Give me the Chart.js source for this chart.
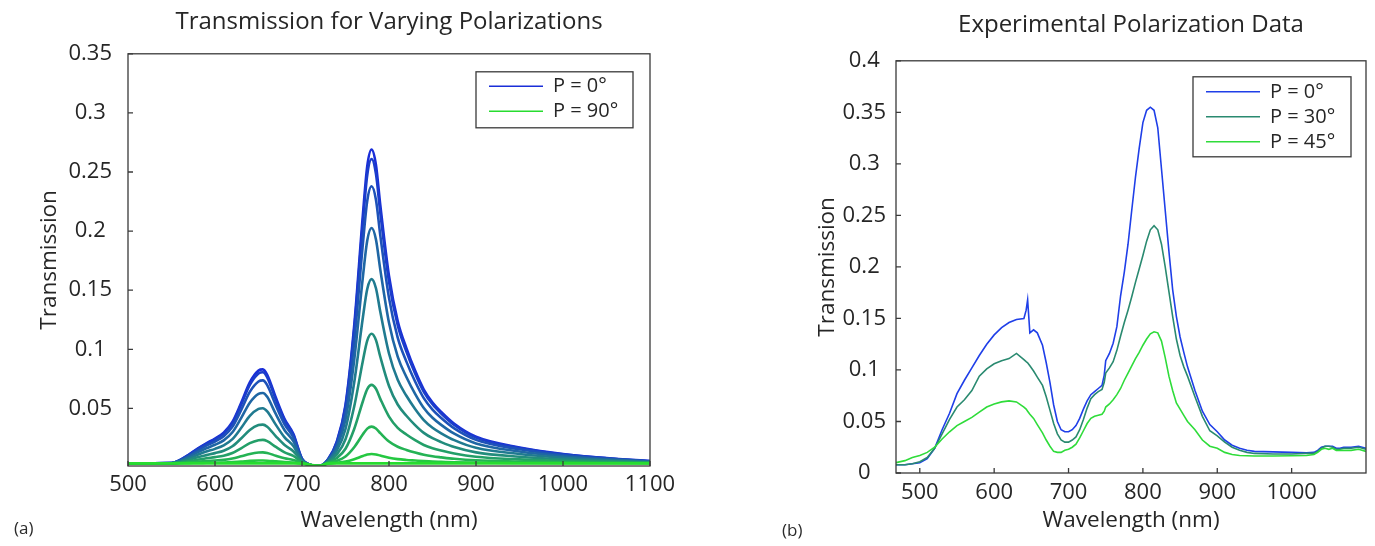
<!DOCTYPE html>
<html>
<head>
<meta charset="utf-8">
<script src="https://cdn.jsdelivr.net/npm/chart.js@4.4.1/dist/chart.umd.min.js"></script>
<style>
  html, body { margin: 0; padding: 0; background: #fff; }
  body { width: 1375px; height: 546px; position: relative; overflow: hidden; font-family: "Open Sans", sans-serif; }
  .panel { position: absolute; top: 0; height: 546px; }
  #panelA { left: 0; width: 690px; }
  #panelB { left: 780px; width: 595px; }
  .tag { position: absolute; font-size: 17px; color: #2b2b2b; line-height: 1; }
</style>
</head>
<body>
<div class="panel" id="panelA"><canvas id="chartA"></canvas></div>
<div class="panel" id="panelB"><canvas id="chartB"></canvas></div>
<div class="tag" style="left:14px; top:519px;">(a)</div>
<div class="tag" style="left:782px; top:521px;">(b)</div>
<script>
// ---- (a) simulated transmission, one curve per polarization angle ----
const wlA = [500, 550, 560, 570, 580, 590, 600, 610, 620, 630, 640, 650, 655, 660, 670, 680, 690, 700, 710, 720,
             730, 740, 750, 760, 770, 775, 780, 785, 790, 800, 810, 820, 830, 840, 850, 860, 875, 900, 950, 1000, 1050, 1100];

const tA00 = [.0035, .0037, .0065, .0110, .0160, .0205, .0245, .0295, .0385, .0545, .0720, .0820, .0830, .0785, .0590, .0410, .0285, .0075, .0020, .0013,
              .0070, .0220, .0530, .1200, .2140, .2550, .2690, .2560, .2220, .1620, .1240, .1010, .0820, .0660, .0550, .0470, .0370, .0260, .0170, .0115, .0080, .0055];
const tA10 = [.0035, .0037, .0064, .0108, .0156, .0200, .0239, .0287, .0375, .0530, .0699, .0796, .0806, .0763, .0573, .0399, .0278, .0074, .0022, .0014,
              .0069, .0214, .0515, .1165, .2077, .2475, .2610, .2484, .2154, .1572, .1204, .0981, .0796, .0641, .0535, .0457, .0360, .0253, .0166, .0113, .0079, .0054];
const tA20 = [.0035, .0037, .0061, .0101, .0145, .0185, .0220, .0265, .0344, .0485, .0640, .0728, .0737, .0697, .0525, .0366, .0256, .0070, .0022, .0014,
              .0066, .0198, .0472, .1064, .1894, .2256, .2379, .2265, .1964, .1435, .1099, .0896, .0728, .0587, .0490, .0419, .0331, .0234, .0154, .0106, .0075, .0053];
const tA30 = [.0035, .0037, .0058, .0091, .0129, .0163, .0193, .0230, .0298, .0418, .0549, .0624, .0631, .0598, .0451, .0316, .0223, .0065, .0022, .0014,
              .0061, .0174, .0406, .0909, .1614, .1921, .2026, .1929, .1674, .1224, .0939, .0766, .0624, .0504, .0421, .0361, .0286, .0204, .0136, .0095, .0069, .0050];
const tA40 = [.0035, .0036, .0053, .0079, .0108, .0135, .0158, .0188, .0240, .0334, .0437, .0496, .0502, .0475, .0361, .0255, .0182, .0058, .0022, .0014,
              .0056, .0144, .0326, .0719, .1271, .1511, .1594, .1517, .1318, .0965, .0742, .0607, .0496, .0402, .0337, .0290, .0232, .0167, .0114, .0082, .0061, .0047];
const tA50 = [.0035, .0036, .0047, .0066, .0087, .0105, .0122, .0142, .0180, .0246, .0318, .0359, .0363, .0345, .0264, .0190, .0138, .0052, .0022, .0014,
              .0049, .0111, .0239, .0516, .0904, .1074, .1132, .1078, .0937, .0690, .0533, .0438, .0359, .0293, .0248, .0215, .0173, .0128, .0091, .0068, .0054, .0043];
const tA60 = [.0035, .0036, .0043, .0054, .0066, .0078, .0088, .0100, .0123, .0163, .0206, .0231, .0234, .0223, .0174, .0129, .0098, .0045, .0022, .0014,
              .0044, .0081, .0159, .0326, .0561, .0664, .0699, .0666, .0581, .0431, .0336, .0279, .0231, .0191, .0164, .0144, .0119, .0091, .0069, .0055, .0046, .0040];
const tA70 = [.0035, .0035, .0039, .0044, .0050, .0055, .0060, .0065, .0076, .0095, .0115, .0127, .0128, .0123, .0100, .0079, .0064, .0040, .0022, .0014,
              .0039, .0057, .0093, .0171, .0281, .0329, .0346, .0330, .0291, .0220, .0176, .0149, .0127, .0108, .0095, .0086, .0074, .0061, .0051, .0044, .0040, .0037];
const tA80 = [.0035, .0035, .0036, .0037, .0039, .0040, .0041, .0043, .0046, .0050, .0056, .0059, .0059, .0058, .0052, .0046, .0043, .0036, .0022, .0014,
              .0036, .0041, .0050, .0070, .0098, .0110, .0115, .0111, .0101, .0083, .0071, .0064, .0059, .0054, .0050, .0048, .0045, .0042, .0039, .0037, .0036, .0036];
const tA90 = [.0035, .0035, .0035, .0035, .0035, .0035, .0035, .0035, .0035, .0035, .0035, .0035, .0035, .0035, .0035, .0035, .0035, .0033, .0022, .0014,
              .0033, .0035, .0035, .0035, .0035, .0035, .0035, .0035, .0035, .0035, .0035, .0035, .0035, .0035, .0035, .0035, .0035, .0035, .0035, .0035, .0035, .0035];

const anglesA = [0, 10, 20, 30, 40, 50, 60, 70, 80, 90];
const curvesA = [tA00, tA10, tA20, tA30, tA40, tA50, tA60, tA70, tA80, tA90];
const colorsA = ['#1a2ed8', '#1b3dcb', '#1d52b8', '#1f66a4', '#207a90', '#228c7c', '#239f68', '#24b354', '#25c841', '#27dc2f'];
const xTicksA = [500, 600, 700, 800, 900, 1000, 1100];
const yTicksA = [0.05, 0.1, 0.15, 0.2, 0.25, 0.3, 0.35];

// ---- (b) measured transmission ----
const wlB = [468, 480, 490, 500, 510, 520, 530, 540, 550, 560, 570, 580, 590, 600, 610, 620, 630, 640, 643, 645,
             648, 653, 658, 665, 670, 675, 680, 685, 690, 695, 700, 705, 710, 715, 720, 725, 730, 735, 740, 745,
             748, 750, 755, 760, 765, 770, 775, 780, 785, 790, 795, 800, 805, 810, 815, 820, 825, 830, 835, 840,
             845, 850, 855, 860, 870, 880, 890, 900, 910, 920, 930, 940, 950, 975, 1000, 1020, 1030, 1035, 1040, 1045,
             1050, 1055, 1060, 1065, 1070, 1080, 1090, 1100];

const tB00 = [.008, .008, .009, .010, .014, .024, .042, .058, .077, .090, .102, .114, .125, .134, .141, .146, .149, .150, .158, .168,
              .136, .139, .136, .124, .107, .088, .066, .050, .042, .040, .040, .042, .046, .053, .062, .070, .076, .079, .082, .085,
              .095, .109, .116, .126, .142, .172, .195, .222, .255, .287, .315, .340, .352, .355, .352, .335, .295, .255, .215, .178,
              .152, .132, .117, .103, .080, .060, .047, .040, .032, .027, .024, .022, .021, .0205, .020, .0195, .020, .022, .025, .026,
              .026, .026, .024, .024, .025, .025, .026, .024];
const tB30 = [.008, .008, .009, .011, .015, .024, .038, .052, .064, .071, .080, .094, .101, .106, .109, .111, .116, .110, .108, .107,
              .104, .099, .093, .085, .074, .061, .048, .038, .032, .030, .030, .032, .035, .042, .052, .063, .072, .076, .079, .081,
              .088, .097, .102, .108, .119, .133, .146, .158, .171, .185, .198, .211, .225, .236, .240, .236, .222, .200, .176, .152,
              .130, .114, .103, .094, .074, .055, .041, .036, .030, .025, .022, .020, .019, .0185, .0185, .019, .019, .021, .024, .026,
              .026, .025, .023, .023, .024, .024, .025, .023];
const tB45 = [.010, .012, .015, .017, .020, .025, .033, .040, .046, .050, .054, .059, .064, .067, .069, .070, .069, .064, .062, .060,
              .057, .053, .047, .039, .032, .026, .021, .020, .020, .022, .023, .025, .028, .034, .041, .048, .053, .055, .056, .057,
              .060, .064, .067, .071, .076, .082, .090, .097, .104, .111, .117, .124, .130, .135, .137, .136, .128, .112, .094, .080,
              .068, .062, .056, .050, .042, .032, .026, .024, .020, .018, .017, .0168, .0165, .0165, .0168, .017, .018, .020, .023, .024,
              .023, .024, .022, .022, .022, .022, .023, .021];

const anglesB = [0, 30, 45];
const curvesB = [tB00, tB30, tB45];
const colorsB = ['#1f3fe8', '#2a8a70', '#2fdc3a'];
const xTicksB = [500, 600, 700, 800, 900, 1000];
const yTicksB = [0, 0.05, 0.1, 0.15, 0.2, 0.25, 0.3, 0.35, 0.4];

Chart.defaults.font.family = '"Open Sans", sans-serif';
const ink = '#262626';
const tickFont = { size: 22 };
const axisFont = { size: 22.5 };

// box round the plot, inward tick marks and a boxed legend in the upper right
const framePlugin = {
  id: 'frame',
  afterDatasetsDraw(chart, args, opts) {
    const { ctx, chartArea: a, scales: { x, y } } = chart;
    ctx.save();
    ctx.strokeStyle = '#3a3a3a';
    ctx.lineWidth = 1.3;
    ctx.strokeRect(a.left, a.top, a.right - a.left, a.bottom - a.top);
    ctx.beginPath();
    x.ticks.forEach(t => {
      const px = x.getPixelForValue(t.value);
      ctx.moveTo(px, a.bottom); ctx.lineTo(px, a.bottom - 5);
    });
    y.ticks.forEach(t => {
      const py = y.getPixelForValue(t.value);
      ctx.moveTo(a.left, py); ctx.lineTo(a.left + 5, py);
    });
    ctx.stroke();

    const lg = opts.legend;
    const bx = a.right - lg.right - lg.width;
    const by = a.top + lg.top;
    ctx.fillStyle = '#fff';
    ctx.fillRect(bx, by, lg.width, lg.height);
    ctx.strokeStyle = '#3a3a3a';
    ctx.lineWidth = 1.3;
    ctx.strokeRect(bx, by, lg.width, lg.height);
    ctx.font = '20px "Open Sans", sans-serif';
    ctx.textBaseline = 'middle';
    ctx.textAlign = 'left';
    lg.items.forEach((idx, k) => {
      const ds = chart.data.datasets[idx];
      const ry = by + lg.first + k * lg.step;
      ctx.strokeStyle = ds.borderColor;
      ctx.lineWidth = 1.6;
      ctx.beginPath();
      ctx.moveTo(bx + 13, ry); ctx.lineTo(bx + 67, ry);
      ctx.stroke();
      ctx.fillStyle = ink;
      ctx.fillText(ds.label, bx + 77, ry);
    });
    ctx.restore();
  }
};

function makeChart(id, cfg) {
  return new Chart(document.getElementById(id), {
    type: 'line',
    data: {
      datasets: cfg.curves.map((vals, i) => ({
        label: 'P = ' + cfg.angles[i] + '°',
        data: vals.map((v, j) => ({ x: cfg.wl[j], y: v })),
        borderColor: cfg.colors[i],
        borderWidth: cfg.lineWidth,
        pointRadius: 0,
        tension: cfg.smooth ? 0.4 : 0,
        cubicInterpolationMode: cfg.smooth ? 'monotone' : 'default',
        order: -i
      }))
    },
    options: {
      responsive: true,
      maintainAspectRatio: false,
      animation: false,
      layout: { padding: { left: 0, right: cfg.padRight, top: 0, bottom: 0 } },
      plugins: {
        legend: { display: false },
        tooltip: { enabled: false },
        title: {
          display: true, text: cfg.title, color: ink, fullSize: false,
          font: { size: 24, weight: 'normal' },
          padding: { top: cfg.titleTop, bottom: cfg.titleBottom }
        },
        frame: { legend: cfg.legend }
      },
      scales: {
        x: {
          type: 'linear', min: cfg.xMin, max: cfg.xMax,
          afterBuildTicks: s => { s.ticks = cfg.xTicks.map(v => ({ value: v })); },
          afterFit: s => { s.height = cfg.xHeight; },
          grid: { display: false },
          border: { display: false },
          ticks: { color: ink, font: tickFont, padding: cfg.xPad, maxRotation: 0, autoSkip: false, callback: v => String(v) },
          title: { display: true, text: 'Wavelength (nm)', color: ink, font: axisFont, padding: { top: 0, bottom: 12 } }
        },
        y: {
          type: 'linear', min: cfg.yMin, max: cfg.yMax,
          afterBuildTicks: s => { s.ticks = cfg.yTicks.map(v => ({ value: v })); },
          afterFit: s => { s.width = cfg.yWidth; },
          grid: { display: false },
          border: { display: false },
          ticks: { color: ink, font: tickFont, padding: cfg.yPad, crossAlign: 'center', callback: v => String(+v.toFixed(3)) },
          title: { display: true, text: 'Transmission', color: ink, font: axisFont, padding: { top: cfg.yTitlePad, bottom: 0 } }
        }
      }
    },
    plugins: [framePlugin]
  });
}

makeChart('chartA', {
  wl: wlA, curves: curvesA, angles: anglesA, colors: colorsA, lineWidth: 2.6, smooth: true,
  title: 'Transmission for Varying Polarizations', titleTop: 8, titleBottom: 17,
  xMin: 500, xMax: 1100, xTicks: xTicksA, xHeight: 80, xPad: -2,
  yMin: 0.0013, yMax: 0.35, yTicks: yTicksA, yWidth: 128, yPad: 8, yTitlePad: 36,
  padRight: 40,
  legend: { items: [0, 9], right: 17, top: 18, width: 157, height: 56, first: 14.5, step: 25 }
});

makeChart('chartB', {
  wl: wlB, curves: curvesB, angles: anglesB, colors: colorsB, lineWidth: 1.6, smooth: false,
  title: 'Experimental Polarization Data', titleTop: 11, titleBottom: 21,
  xMin: 468, xMax: 1100, xTicks: xTicksB, xHeight: 73, xPad: -1,
  yMin: 0, yMax: 0.4, yTicks: yTicksB, yWidth: 116, yPad: 2, yTitlePad: 34,
  padRight: 9,
  legend: { items: [0, 1, 2], right: 15, top: 16, width: 158, height: 80, first: 15, step: 25 }
});
</script>
</body>
</html>
